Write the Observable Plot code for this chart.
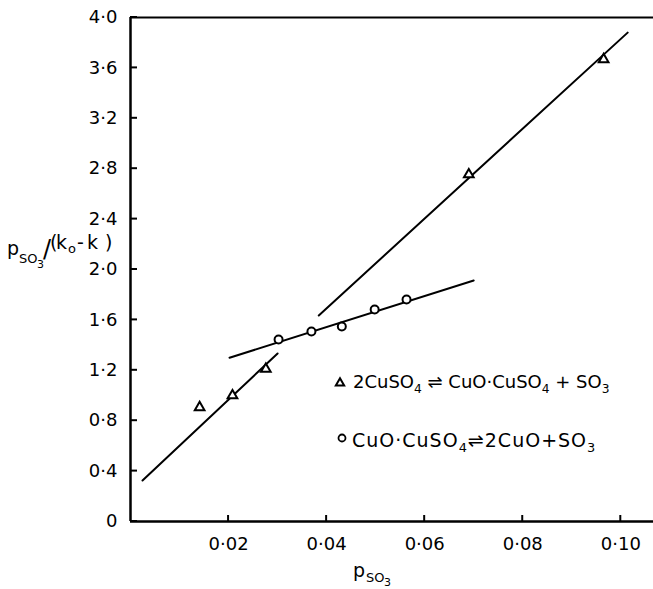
<!DOCTYPE html>
<html><head><meta charset="utf-8">
<script src="https://cdn.jsdelivr.net/npm/d3@7"></script>
<script src="https://cdn.jsdelivr.net/npm/@observablehq/plot@0.6"></script>
<style>body{margin:0;background:#fff} #chart{width:653px;height:589px}</style>
</head><body><div id="chart"></div>
<script>
// Triangles: 2CuSO4 ⇌ CuO·CuSO4 + SO3
const triX = [0.0141, 0.0208, 0.0276, 0.0690, 0.0965];
const triY = [0.905, 1.00, 1.21, 2.754, 3.667];
// Circles: CuO·CuSO4 ⇌ 2CuO + SO3
const cirX = [0.0302, 0.0369, 0.0431, 0.0498, 0.0563];
const cirY = [1.444, 1.508, 1.548, 1.683, 1.762];
// Fitted lines (end points)
const triFitLowerX = [0.00245, 0.0300];
const triFitLowerY = [0.325, 1.333];
const triFitUpperX = [0.0384, 0.1014];
const triFitUpperY = [1.635, 3.88];
const cirFitX = [0.0202, 0.0700];
const cirFitY = [1.30, 1.913];
// Ticks
const xTicks = [0.02, 0.04, 0.06, 0.08, 0.10];
const xTickLabels = ["0·02", "0·04", "0·06", "0·08", "0·10"];
const yTicks = [0, 0.4, 0.8, 1.2, 1.6, 2.0, 2.4, 2.8, 3.2, 3.6, 4.0];
const yTickLabels = ["0", "0·4", "0·8", "1·2", "1·6", "2·0", "2·4", "2·8", "3·2", "3·6", "4·0"];

const zip = (xs, ys) => xs.map((x, i) => ({x, y: ys[i]}));
const lab = (ticks, labels) => d => labels[ticks.findIndex(t => Math.abs(t - d) < 1e-9)];
const font = "DejaVu Sans";

const plot = Plot.plot({
  width: 653, height: 589,
  marginLeft: 130, marginRight: 0, marginTop: 17, marginBottom: 68,
  style: {fontFamily: font, fontSize: "18px", color: "#000", background: "#fff"},
  x: {domain: [0, 0.10667]},
  y: {domain: [0, 4]},
  marks: [
    Plot.axisX(xTicks, {tickSize: 0, tickPadding: 16, tickFormat: lab(xTicks, xTickLabels), label: null, fontSize: 18}),
    Plot.axisY(yTicks, {tickSize: 0, tickPadding: 13, tickFormat: lab(yTicks, yTickLabels), label: null, fontSize: 18}),
    Plot.ruleY([0], {strokeWidth: 2.5}),
    Plot.ruleX([0], {strokeWidth: 2.5}),
    Plot.ruleY([4], {strokeWidth: 2}),
    Plot.line(zip(triFitLowerX, triFitLowerY), {x: "x", y: "y", strokeWidth: 2}),
    Plot.line(zip(triFitUpperX, triFitUpperY), {x: "x", y: "y", strokeWidth: 2}),
    Plot.line(zip(cirFitX, cirFitY), {x: "x", y: "y", strokeWidth: 2}),
    Plot.dot(zip(triX, triY), {x: "x", y: "y", symbol: "triangle", r: 3.6, stroke: "#000", fill: "#fff", strokeWidth: 2}),
    Plot.dot(zip(cirX, cirY), {x: "x", y: "y", r: 4, stroke: "#000", fill: "#fff", strokeWidth: 2})
  ]
});
document.getElementById("chart").append(plot);

const svg = d3.select(plot);
// inward tick marks, positioned through the plot's own scales
const sx = plot.scale("x"), sy = plot.scale("y");
const x0 = sx.apply(0), y0 = sy.apply(0);
for (const t of xTicks) {
  const px = sx.apply(t);
  svg.append("line").attr("x1", px).attr("x2", px).attr("y1", y0).attr("y2", y0 - 6)
    .attr("stroke", "#000").attr("stroke-width", 2);
}
for (const t of yTicks) {
  const py = sy.apply(t);
  svg.append("line").attr("x1", x0).attr("x2", x0 + 7).attr("y1", py).attr("y2", py)
    .attr("stroke", "#000").attr("stroke-width", 2);
}

function txt(x, y, size, parts, opts = {}) {
  const t = svg.append("text").attr("x", x).attr("y", y)
    .attr("font-family", font).attr("font-size", size).attr("fill", "#000")
    .attr("text-anchor", "start");
  if (opts.ls) t.attr("letter-spacing", opts.ls);
  let shift = 0;
  for (const [s, k] of parts) {
    const target = k === "sub" ? 5 : 0;
    t.append("tspan").attr("dy", target - shift).attr("font-size", k === "sub" ? size * 0.68 : size).text(s);
    shift = target;
  }
  return t;
}
// y-axis label
txt(7, 255, 19, [["p", ""]]);
txt(19, 263, 13, [["SO", ""]]);
txt(37, 268, 11, [["3", ""]]);
txt(43, 257, 24, [["/", ""]]);
txt(50, 249, 19, [["(", ""]]);
txt(56, 249, 19, [["k", ""]]);
txt(68, 253, 13, [["o", ""]]);
txt(77, 249, 19, [["-", ""]]);
txt(87, 249, 19, [["k", ""]]);
txt(105, 249, 19, [[")", ""]]);
// x-axis label
txt(353, 577, 19, [["p", ""]]);
txt(366, 582, 13, [["SO", ""]]);
txt(384, 586, 11, [["3", ""]]);
// legend
svg.append("path").attr("d", d3.symbol(d3.symbolTriangle, 30)())
  .attr("transform", "translate(340,383)").attr("fill", "#fff").attr("stroke", "#000").attr("stroke-width", 2);
txt(353, 388, 18, [["2CuSO", ""], ["4", "sub"], [" ⇌ CuO·CuSO", ""], ["4", "sub"], [" + SO", ""], ["3", "sub"]]);
svg.append("circle").attr("cx", 342).attr("cy", 438).attr("r", 3.5)
  .attr("fill", "#fff").attr("stroke", "#000").attr("stroke-width", 1.8);
txt(352, 447, 19, [["CuO·CuSO", ""], ["4", "sub"], ["⇌2CuO+SO", ""], ["3", "sub"]], {ls: 1});
</script>
</body></html>
